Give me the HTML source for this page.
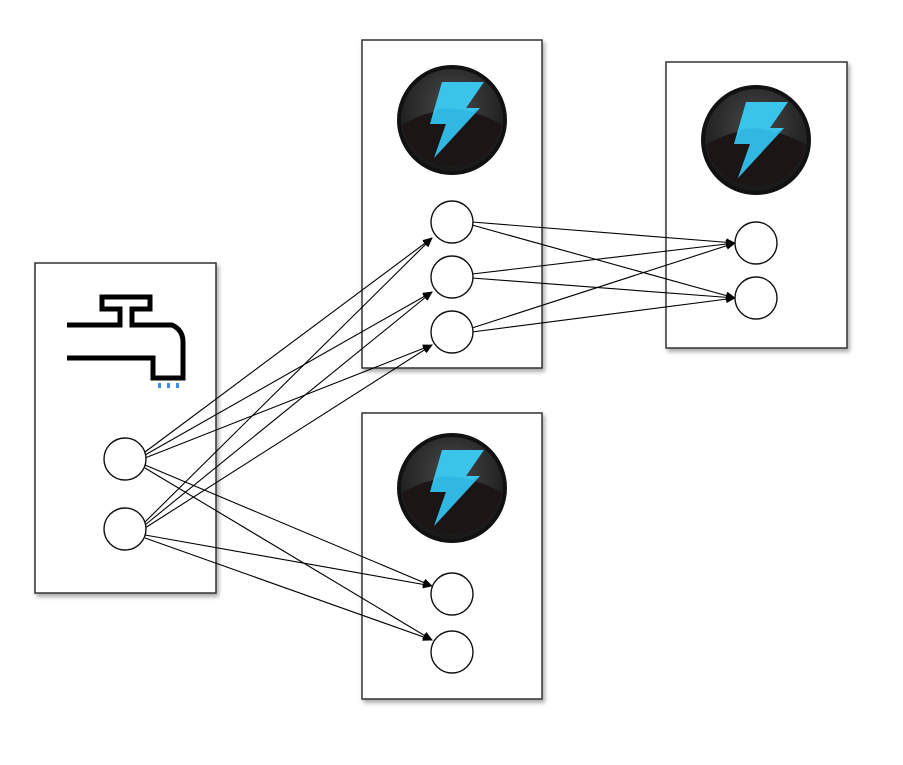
<!DOCTYPE html>
<html><head><style>body{margin:0;background:#fff}</style></head><body>
<svg width="903" height="760" viewBox="0 0 903 760" xmlns="http://www.w3.org/2000/svg">
<defs>
<filter id="sh" x="-10%" y="-10%" width="130%" height="130%"><feDropShadow dx="2" dy="3" stdDeviation="2" flood-color="#000" flood-opacity="0.35"/></filter>
<marker id="ar" markerWidth="10" markerHeight="8" refX="9" refY="4" orient="auto" markerUnits="userSpaceOnUse"><path d="M0,0 L10,4 L0,8 z" fill="#000"/></marker>
<radialGradient id="bg" cx="50%" cy="35%" r="60%"><stop offset="0" stop-color="#4a4a4a"/><stop offset="1" stop-color="#1a1a1a"/></radialGradient>
<g id="bolt">
<circle r="55" fill="#111"/>
<circle r="51" fill="url(#bg)"/>
<path d="M-50,5 Q0,-25 50,5 A51,51 0 0 1 -50,5z" fill="#1c1516"/>
<path d="M-10,-38 L32,-38 L14,-12 L28,-12 L-18,38 L-6,4 L-22,4 Z" fill="#3bc4ea"/>
<path d="M-6,4 L-22,4 L-16,-10 Q0,-14 20,-8 L28,-12 L-18,38 Z" fill="#2ab0dc" opacity="0.6"/>
</g>
</defs>
<g fill="#fff" stroke="#333" stroke-width="1.5" filter="url(#sh)">
<rect x="35" y="263" width="181" height="330"/>
<rect x="362" y="40" width="180" height="328"/>
<rect x="666" y="62" width="181" height="286"/>
<rect x="362" y="413" width="180" height="286"/>
</g>
<use href="#bolt" x="452" y="120"/>
<use href="#bolt" x="756" y="140"/>
<use href="#bolt" x="452" y="488"/>
<g fill="none" stroke="#000" stroke-width="5">
<path d="M67,325 H120 V309 H102 V297 H150 V309 H132 V325 H172 Q183,330 183,342 V378 H153 V358 H67"/>
</g>
<g fill="#3a8df0"><rect x="158" y="383" width="3" height="5"/><rect x="167" y="383" width="3" height="5"/><rect x="176" y="383" width="3" height="5"/></g>
<g stroke="#000" stroke-width="1.1" marker-end="url(#ar)">
<line x1="145" y1="452" x2="432" y2="238"/>
<line x1="145" y1="455" x2="432" y2="292"/>
<line x1="145" y1="458" x2="432" y2="345"/>
<line x1="145" y1="522" x2="432" y2="238"/>
<line x1="145" y1="525" x2="432" y2="292"/>
<line x1="145" y1="528" x2="432" y2="345"/>
<line x1="145" y1="465" x2="432" y2="586"/>
<line x1="145" y1="468" x2="432" y2="640"/>
<line x1="145" y1="535" x2="432" y2="586"/>
<line x1="145" y1="538" x2="432" y2="640"/>
<line x1="472" y1="222" x2="735" y2="243"/>
<line x1="472" y1="225" x2="735" y2="298"/>
<line x1="472" y1="274" x2="735" y2="243"/>
<line x1="472" y1="278" x2="735" y2="298"/>
<line x1="472" y1="328" x2="735" y2="243"/>
<line x1="472" y1="332" x2="735" y2="298"/>
</g>
<g fill="#fff" stroke="#111" stroke-width="1.4">
<circle cx="125" cy="459" r="21"/><circle cx="125" cy="529" r="21"/>
<circle cx="452" cy="222" r="21"/><circle cx="452" cy="277" r="21"/><circle cx="452" cy="332" r="21"/>
<circle cx="756" cy="243" r="21"/><circle cx="756" cy="298" r="21"/>
<circle cx="452" cy="594" r="21"/><circle cx="452" cy="652" r="21"/>
</g>
</svg>
</body></html>
